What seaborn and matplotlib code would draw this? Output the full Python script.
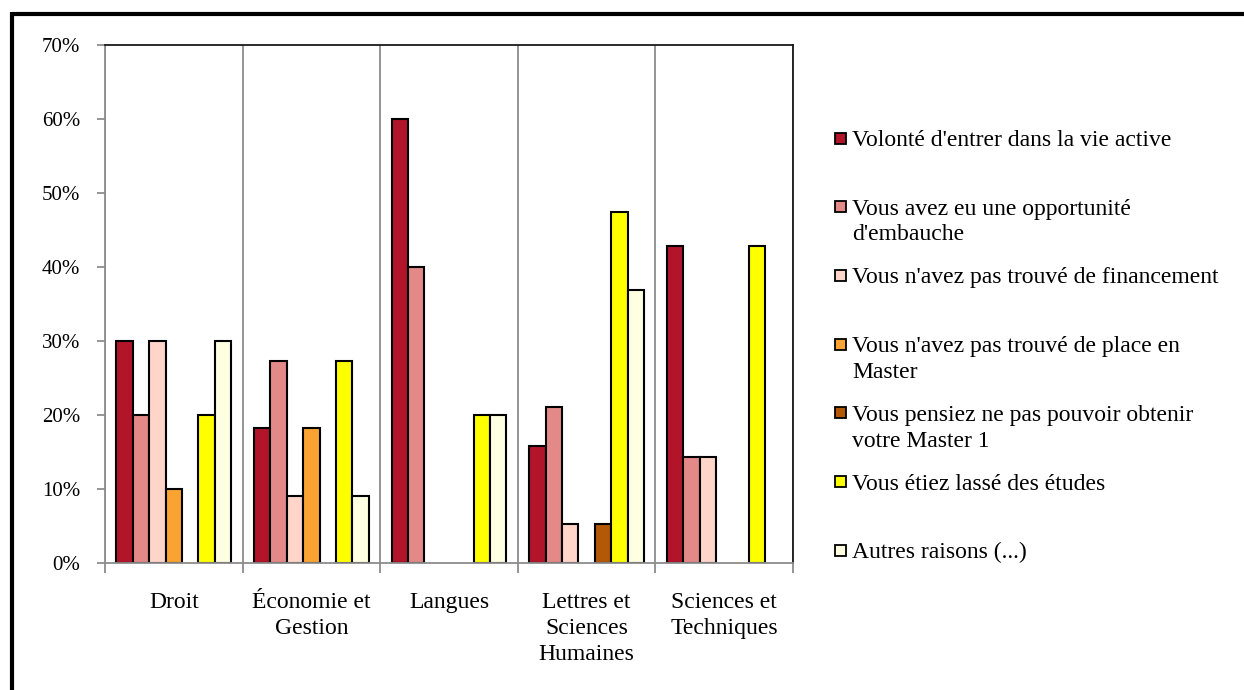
import pandas as pd
import matplotlib.pyplot as plt
import seaborn as sns
from matplotlib.patches import Rectangle
from matplotlib.lines import Line2D
from matplotlib.ticker import FuncFormatter, FixedLocator

# Données (en %)
filieres = ["Droit", "Économie et\nGestion", "Langues", "Lettres et\nSciences\nHumaines", "Sciences et\nTechniques"]
raisons = [
    "Volonté d'entrer dans la vie active",
    "Vous avez eu une opportunité\nd'embauche",
    "Vous n'avez pas trouvé de financement",
    "Vous n'avez pas trouvé de place en\nMaster",
    "Vous pensiez ne pas pouvoir obtenir\nvotre Master 1",
    "Vous étiez lassé des études",
    "Autres raisons (...)",
]
droit = [30.0, 20.0, 30.0, 10.0, 0.0, 20.0, 30.0]
economie = [18.18, 27.27, 9.09, 18.18, 0.0, 27.27, 9.09]
langues = [60.0, 40.0, 0.0, 0.0, 0.0, 20.0, 20.0]
lettres = [15.79, 21.05, 5.26, 0.0, 5.26, 47.37, 36.84]
sciences = [42.86, 14.29, 14.29, 0.0, 0.0, 42.86, 0.0]
couleurs = ["#B2152A", "#E38A88", "#FFD5CA", "#F9A332", "#B35806", "#FFFF00", "#FFFFE1"]

lignes = []
for f, vals in zip(filieres, [droit, economie, langues, lettres, sciences]):
    for r, v in zip(raisons, vals):
        lignes.append({"filiere": f, "raison": r, "pct": v})
dati = pd.DataFrame(lignes)
# les barres à 0 ne sont pas dessinées
dati = dati[dati["pct"] > 0]

sns.set_style("white")
plt.rcParams["font.family"] = ["Liberation Serif", "DejaVu Serif"]
plt.rcParams["text.color"] = "black"

W, H = 1244, 690
fig = plt.figure(figsize=(W / 100, H / 100), dpi=100)
ax = fig.add_axes([105 / W, 1 - 563 / H, 688 / W, 518 / H])

sns.barplot(data=dati, x="filiere", y="pct", hue="raison", order=filieres, hue_order=raisons,
            palette=couleurs, saturation=1, width=0.833, edgecolor="black", linewidth=1.5,
            errorbar=None, legend=False, ax=ax)

ax.set_xlim(-0.5, 4.5)
ax.set_ylim(0, 70)
ax.set_yticks(range(0, 71, 10))
ax.yaxis.set_major_formatter(FuncFormatter(lambda v, p: f"{v:.0f}%"))
ax.set_xlabel("")
ax.set_ylabel("")

# séparateurs verticaux entre les filières
ax.xaxis.set_minor_locator(FixedLocator([-0.5, 0.5, 1.5, 2.5, 3.5, 4.5]))
ax.grid(True, which="minor", axis="x", color="#8C8C8C", linewidth=1.3)
ax.tick_params(axis="x", which="major", length=0, pad=21, labelsize=17, labelcolor="black")
ax.tick_params(axis="x", which="minor", length=7, width=1.3, color="#8C8C8C", direction="out", bottom=True)
ax.tick_params(axis="y", length=6, width=1.3, color="#8C8C8C", direction="out", left=True, pad=12,
               labelsize=15, labelcolor="black")
for t in ax.get_xticklabels():
    t.set_linespacing(1.3)

for s in ["left", "bottom"]:
    ax.spines[s].set_color("#8C8C8C")
    ax.spines[s].set_linewidth(1.3)
for s in ["top", "right"]:
    ax.spines[s].set_color("#1A1A1A")
    ax.spines[s].set_linewidth(1.3)

# légende dessinée à la main : le carré est aligné sur la première ligne
for i, (r, c) in enumerate(zip(raisons, couleurs)):
    yc = 138 + i * 68.7
    fig.add_artist(Rectangle((835 / W, 1 - (yc + 5.5) / H), 11 / W, 11 / H, facecolor=c,
                             edgecolor="black", linewidth=1.3, transform=fig.transFigure))
    fig.text(852 / W, 1 - (yc - 8) / H, r, fontsize=17, va="top", ha="left", linespacing=1.3,
             color="black")

# cadre noir en haut et à gauche
fig.add_artist(Line2D([12 / W, 1], [1 - 14 / H, 1 - 14 / H], color="black", linewidth=3,
                      solid_capstyle="butt", transform=fig.transFigure))
fig.add_artist(Line2D([12 / W, 12 / W], [0, 1 - 12 / H], color="black", linewidth=3,
                      solid_capstyle="butt", transform=fig.transFigure))

fig.savefig("out.png", dpi=100)
